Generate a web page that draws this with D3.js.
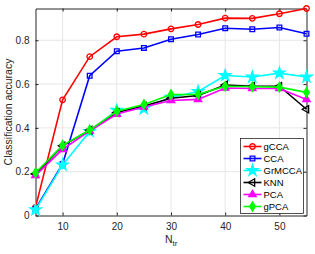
<!DOCTYPE html>
<html>
<head>
<meta charset="utf-8">
<script src="https://cdn.jsdelivr.net/npm/d3@7"></script>
<style>
  body { margin: 0; background: #fff; }
  svg { font-family: "Liberation Sans", Arial, sans-serif; }
  .grid line { stroke: #e6e6e6; stroke-width: 1; }
  .axis text { fill: #262626; font-size: 10px; }
  .axis path, .axis line { stroke: #262626; }
</style>
</head>
<body>
<svg width="315" height="254"></svg>
<script>
var ntr = [5, 10, 15, 20, 25, 30, 35, 40, 45, 50, 55];

var gCCA   = [0.037, 0.528, 0.725, 0.816, 0.828, 0.852, 0.872, 0.901, 0.900, 0.921, 0.945];
var CCA    = [0.030, 0.235, 0.638, 0.750, 0.765, 0.805, 0.826, 0.855, 0.850, 0.858, 0.830];
var GrMCCA = [0.026, 0.231, 0.384, 0.480, 0.488, 0.540, 0.566, 0.639, 0.632, 0.650, 0.632];
var KNN    = [0.190, 0.318, 0.390, 0.470, 0.500, 0.535, 0.548, 0.596, 0.590, 0.590, 0.485];
var PCA    = [0.183, 0.302, 0.386, 0.463, 0.495, 0.525, 0.530, 0.582, 0.580, 0.580, 0.530];
var gPCA   = [0.195, 0.320, 0.390, 0.476, 0.507, 0.552, 0.553, 0.590, 0.588, 0.586, 0.562];

var names = ["gCCA", "CCA", "GrMCCA", "KNN", "PCA", "gPCA"];
var xTicks = [10, 20, 30, 40, 50];
var yTicks = [0, 0.2, 0.4, 0.6, 0.8];

var series = [
  {name: "gCCA",   values: gCCA,   color: "#ff0000", symbol: d3.symbolCircle,   size: 24, filled: false},
  {name: "CCA",    values: CCA,    color: "#0000ff", symbol: d3.symbolSquare,   size: 22, filled: false},
  {name: "GrMCCA", values: GrMCCA, color: "#00ffff", symbol: d3.symbolStar,     size: 40, filled: true},
  {name: "KNN",    values: KNN,    color: "#000000", symbol: d3.symbolTriangle, size: 24, filled: false, rot: -90},
  {name: "PCA",    values: PCA,    color: "#ff00ff", symbol: d3.symbolTriangle, size: 24, filled: true},
  {name: "gPCA",   values: gPCA,   color: "#00ff00", symbol: d3.symbolDiamond,  size: 26, filled: true}
];

var svg = d3.select("svg");
var mLeft = 35.5, mRight = 306.5, mTop = 8.5, mBottom = 215.5;

var x = d3.scaleLinear().domain([5, 55]).range([mLeft, mRight]);
var y = d3.scaleLinear().domain([0, 0.945]).range([mBottom, mTop]);

// grid
var grid = svg.append("g").attr("class", "grid");
grid.selectAll("line.vx").data(xTicks).enter().append("line")
  .attr("x1", d => x(d)).attr("x2", d => x(d))
  .attr("y1", mTop).attr("y2", mBottom);
grid.selectAll("line.hy").data(yTicks.slice(1)).enter().append("line")
  .attr("x1", mLeft).attr("x2", mRight)
  .attr("y1", d => y(d)).attr("y2", d => y(d));

// axes
svg.append("g").attr("class", "axis")
  .attr("transform", "translate(0," + mBottom + ")")
  .call(d3.axisBottom(x).tickValues(xTicks).tickSizeInner(-3).tickSizeOuter(0).tickPadding(7));
svg.append("g").attr("class", "axis")
  .attr("transform", "translate(0," + mTop + ")")
  .call(d3.axisTop(x).tickValues(xTicks).tickSizeInner(-3).tickSizeOuter(0).tickFormat(""));
svg.append("g").attr("class", "axis")
  .attr("transform", "translate(" + mLeft + ",0)")
  .call(d3.axisLeft(y).tickValues(yTicks).tickSizeInner(-3).tickSizeOuter(0).tickPadding(6)
    .tickFormat(d => d === 0 ? "0" : d3.format(".1f")(d)));
svg.append("g").attr("class", "axis")
  .attr("transform", "translate(" + mRight + ",0)")
  .call(d3.axisRight(y).tickValues(yTicks).tickSizeInner(-3).tickSizeOuter(0).tickFormat(""));

// axis labels
svg.append("text")
  .attr("transform", "translate(12," + ((mTop + mBottom) / 2) + ") rotate(-90)")
  .attr("text-anchor", "middle")
  .attr("font-size", "10.5px").attr("fill", "#262626")
  .text("Classification accuracy");

var xl = svg.append("text")
  .attr("x", 165).attr("y", 243)
  .attr("font-size", "10.5px").attr("fill", "#262626");
xl.append("tspan").text("N");
xl.append("tspan").attr("font-size", "8px").attr("dy", 3).text("tr");

// lines and markers
var line = d3.line().x((d, i) => x(ntr[i])).y(d => y(d));

series.forEach(function(s) {
  var g = svg.append("g");
  g.append("path")
    .attr("d", line(s.values))
    .attr("fill", "none")
    .attr("stroke", s.color)
    .attr("stroke-width", 1.6);
  g.selectAll("path.m").data(s.values).enter().append("path")
    .attr("class", "m")
    .attr("d", d3.symbol().type(s.symbol).size(s.size))
    .attr("transform", (d, i) => "translate(" + x(ntr[i]) + "," + y(d) + ")" + (s.rot ? " rotate(" + s.rot + ")" : ""))
    .attr("fill", s.filled ? s.color : "none")
    .attr("stroke", s.color)
    .attr("stroke-width", 1.3);
});

// legend
var lx = 240.5, ly = 138.5, lw = 63, lh = 75;
svg.append("rect")
  .attr("x", lx).attr("y", ly).attr("width", lw).attr("height", lh)
  .attr("fill", "#fff").attr("stroke", "#262626").attr("stroke-width", 0.8);

series.forEach(function(s, i) {
  var cy = ly + 8 + i * 12;
  var g = svg.append("g");
  g.append("line")
    .attr("x1", lx + 3).attr("x2", lx + 21)
    .attr("y1", cy).attr("y2", cy)
    .attr("stroke", s.color).attr("stroke-width", 1.6);
  g.append("path")
    .attr("d", d3.symbol().type(s.symbol).size(s.size)())
    .attr("transform", "translate(" + (lx + 12) + "," + cy + ")" + (s.rot ? " rotate(" + s.rot + ")" : ""))
    .attr("fill", s.filled ? s.color : "none")
    .attr("stroke", s.color).attr("stroke-width", 1.3);
  g.append("text")
    .attr("x", lx + 23).attr("y", cy + 3.5)
    .attr("font-size", "9.5px").attr("fill", "#000")
    .text(names[i]);
});
</script>
</body>
</html>
